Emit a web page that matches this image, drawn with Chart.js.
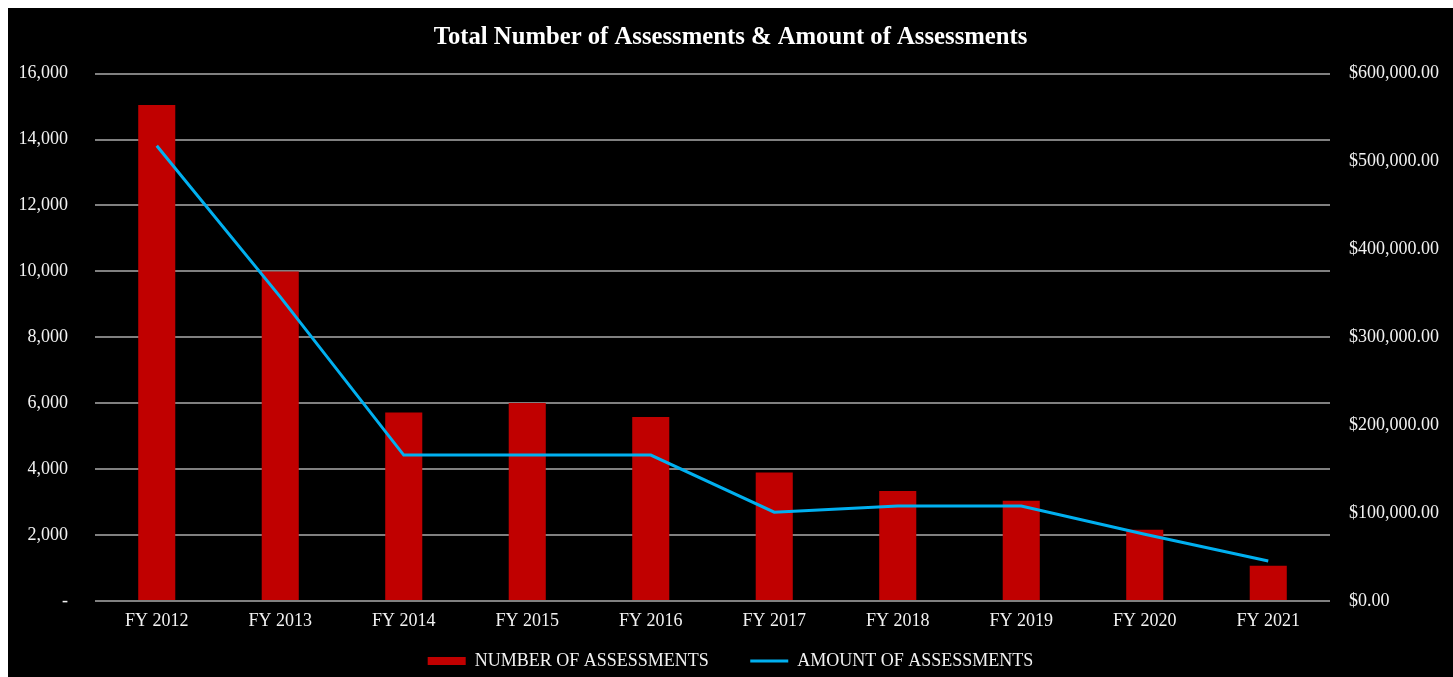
<!DOCTYPE html>
<html>
<head>
<meta charset="utf-8">
<script src="https://cdn.jsdelivr.net/npm/chart.js@4/dist/chart.umd.min.js"></script>
<style>
  body { margin: 8px 0 0 8px; background: #fff; }
  #wrap { width: 1445px; height: 669px; background: #000; }
</style>
</head>
<body>
<div id="wrap"><canvas id="assessChart"></canvas></div>
<script>
const years = ['FY 2012', 'FY 2013', 'FY 2014', 'FY 2015', 'FY 2016', 'FY 2017', 'FY 2018', 'FY 2019', 'FY 2020', 'FY 2021'];
const numberOfAssessments = [15050, 10000, 5720, 6010, 5580, 3900, 3340, 3040, 2160, 1070];
const amountOfAssessments = [518000, 346000, 166000, 166000, 166000, 101000, 108000, 108000, 76000, 45500];

const serif = 'Liberation Serif';
const textColor = '#f2f2f2';

const ctx = document.getElementById('assessChart').getContext('2d');

const chart = new Chart(ctx, {
    type: 'bar',
    data: {
        labels: years,
        datasets: [{
            label: 'NUMBER OF ASSESSMENTS',
            data: numberOfAssessments,
            backgroundColor: '#C00000',
            borderWidth: 0,
            barPercentage: 0.3,
            categoryPercentage: 1,
            pointStyle: 'rect',
            yAxisID: 'yCount',
            order: 1
        }, {
            label: 'AMOUNT OF ASSESSMENTS',
            data: amountOfAssessments,
            type: 'line',
            borderColor: '#00B0F0',
            backgroundColor: '#00B0F0',
            borderWidth: 3,
            pointRadius: 0,
            pointStyle: 'line',
            tension: 0,
            yAxisID: 'yAmount',
            order: 0
        }]
    },
    options: {
        responsive: true,
        maintainAspectRatio: false,
        animation: false,
        layout: { padding: { top: 0, left: 0, right: 0, bottom: -3 } },
        plugins: {
            title: {
                display: true,
                text: 'Total Number of Assessments & Amount of Assessments',
                color: '#ffffff',
                font: { family: serif, size: 24.7, weight: 'bold' },
                padding: { top: 15, bottom: 21 }
            },
            legend: {
                position: 'bottom',
                labels: {
                    color: textColor,
                    font: { family: serif, size: 18 },
                    usePointStyle: true,
                    pointStyleWidth: 38,
                    boxHeight: 8,
                    padding: 10,
                    sort: (a, b) => a.datasetIndex - b.datasetIndex,
                    // trailing spaces on the first entry widen the gap between the two items
                    generateLabels: c => {
                        const items = Chart.defaults.plugins.legend.labels.generateLabels(c);
                        items.forEach(it => { if (it.datasetIndex === 0) it.text += '       '; });
                        return items;
                    }
                }
            },
            tooltip: { enabled: false }
        },
        scales: {
            x: {
                grid: { display: false, drawTicks: false },
                border: { display: false },
                ticks: {
                    color: textColor,
                    font: { family: serif, size: 18 },
                    padding: 9
                },
                afterFit: scale => { scale.height = 41; }
            },
            yCount: {
                type: 'linear',
                position: 'left',
                min: 0,
                max: 16000,
                grid: { color: '#808080', lineWidth: 2, drawTicks: false },
                border: { display: false },
                ticks: {
                    stepSize: 2000,
                    color: textColor,
                    font: { family: serif, size: 18 },
                    padding: 27,
                    callback: v => v === 0 ? '-' : v.toLocaleString('en-US')
                },
                afterFit: scale => { scale.width = 87; }
            },
            yAmount: {
                type: 'linear',
                position: 'right',
                min: 0,
                max: 600000,
                grid: { drawOnChartArea: false, drawTicks: false },
                border: { display: false },
                ticks: {
                    stepSize: 100000,
                    color: textColor,
                    font: { family: serif, size: 18 },
                    padding: 19,
                    callback: v => '$' + v.toLocaleString('en-US', { minimumFractionDigits: 2, maximumFractionDigits: 2 })
                },
                afterFit: scale => { scale.width = 123; }
            }
        }
    }
});
</script>
</body>
</html>
